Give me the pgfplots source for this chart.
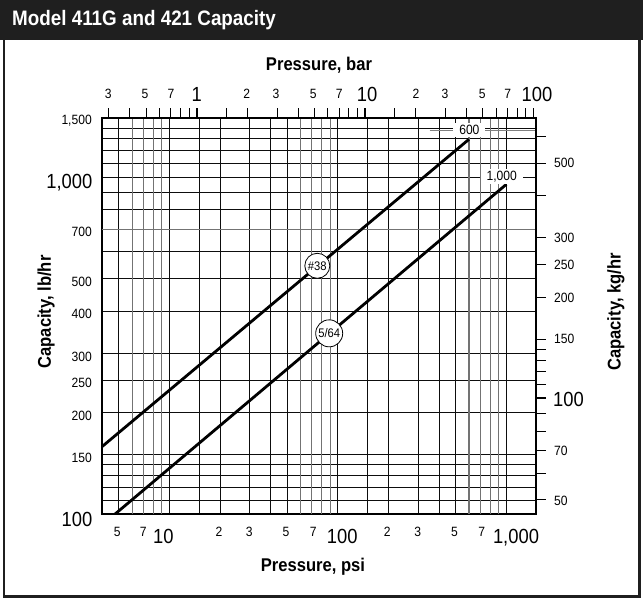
\documentclass[border=0pt]{standalone}
\usepackage{fontspec}
\setmainfont{Liberation Sans}[FakeStretch=0.9]
\usepackage{pgfplots}
\pgfplotsset{compat=1.18}

\begin{document}
\begin{tikzpicture}[x=1bp,y=-1bp,
  sm/.style={font=\fontsize{13.5}{15}\selectfont, inner sep=0pt, text depth=0pt},
  bg/.style={font=\fontsize{20.5}{24}\selectfont, inner sep=0pt, text depth=0pt},
  ttl/.style={font=\bfseries\fontsize{18.5}{21}\selectfont, inner sep=0pt}]
\useasboundingbox (0,0) rectangle (643,599);
\fill[white] (0,0) rectangle (643,599);
\fill[black!88] (0,0) rectangle (643,40);
\draw[black!88, line width=2.2bp] (4,39) -- (4,596.5) -- (639.5,596.5) -- (639.5,39);
\node[anchor=west, white, font=\bfseries\fontsize{21}{24}\selectfont, inner sep=0pt] at (12,20) {Model 411G and 421 Capacity};

% capacity in lb/hr against pressure in psi
\begin{axis}[at={(102bp,-514bp)}, anchor=south west,
  width=434bp, height=396bp, scale only axis,
  xmode=log, ymode=log,
  xmin=3.97, xmax=1500, ymin=100, ymax=1500,
  xtick={5,10,15,20,30,40,50,100,150,200,300,400,500,1000},
  extra x ticks={6,7,8,9,60,70,80,90,600,700,800,900},
  ytick={110,120,130,140,150,200,250,300,400,500,600,800,900,1000,1100,1200,1300,1400},
  extra y ticks={700},
  xticklabels={,,}, yticklabels={,,},
  extra x tick labels={,,}, extra y tick labels={,,},
  xminorticks=false, yminorticks=false,
  major tick length=0pt,
  grid=major,
  major grid style={black!95, line width=1bp},
  extra tick style={major grid style={black!55, line width=1.05bp}},
  axis line style={black, line width=1.8bp},
]
\addplot[black, line width=2.8bp] coordinates {(3.97,158.5) (600,1297)};
\addplot[black, line width=2.8bp] coordinates {(4.75,100) (1000,953)};
\node[circle, draw, fill=white, minimum size=25bp, inner sep=0pt, line width=0.8bp,
  font=\fontsize{12.5}{13}\selectfont] at (axis cs:75.4,546) {\#38};
\node[circle, draw, fill=white, minimum size=27bp, inner sep=0pt, line width=0.8bp,
  font=\fontsize{12.5}{13}\selectfont] at (axis cs:88.7,344) {5/64};
\draw[black!50, line width=0.8bp] (axis cs:350,1375) -- (axis cs:1500,1375);
\node[fill=white, inner xsep=6bp, inner ysep=2bp, font=\fontsize{13.5}{15}\selectfont] at (axis cs:603,1380) {600};
\node[fill=white, inner xsep=6bp, inner ysep=2bp, font=\fontsize{13.5}{15}\selectfont] at (axis cs:939,1004) {1,000};
\end{axis}

% secondary scales: bar on top, kg/hr on the right
\begin{axis}[at={(102bp,-514bp)}, anchor=south west,
  width=434bp, height=396bp, scale only axis,
  xmode=log, ymode=log,
  xmin=0.27372, xmax=103.42, ymin=45.359, ymax=680.39,
  axis x line*=top, axis y line*=right,
  xtick={0.3,0.4,0.5,0.6,0.7,0.8,0.9,1.5,2,3,4,5,6,7,8,9,15,20,30,40,50,60,70,80,90},
  extra x ticks={1,10,100},
  ytick={50,60,70,80,90,110,120,130,140,150,200,250,300,400,500,600},
  extra y ticks={100},
  xticklabels={,,}, yticklabels={,,},
  extra x tick labels={,,}, extra y tick labels={,,},
  xminorticks=false, yminorticks=false,
  tick align=outside, major tick length=10bp,
  major tick style={black, line width=1bp},
  extra tick style={major tick style={black, line width=1.8bp}},
  axis line style={black, line width=1.8bp},
]
\end{axis}

% top scale numbers (bar)
\foreach \x/\t in {108.3/3,145/5,171/7,246.7/2,276/3,313.3/5,339.3/7,416/2,445/3,482.3/5,507.7/7}
  \node[sm] at (\x,94) {\t};
\foreach \x/\t in {196.7/1,367/10,537/100}
  \node[bg] at (\x,94) {\t};
% bottom scale numbers (psi)
\foreach \x/\t in {117.3/5,143.3/7,219/2,249.3/3,286/5,313.3/7,387.3/2,417.7/3,454.5/5,481.7/7}
  \node[sm] at (\x,531.7) {\t};
\foreach \x/\t in {163.3/10,342.3/100,516/{1,000}}
  \node[bg] at (\x,536.5) {\t};
% left scale numbers (lb/hr)
\foreach \y/\t in {120/{1,500},232.3/700,281.7/500,314.3/400,356.7/300,383.3/250,416/200,457.7/150}
  \node[sm, anchor=east] at (92,\y) {\t};
\foreach \y/\t in {181/{1,000},519.3/100}
  \node[bg, anchor=east] at (92.5,\y) {\t};
% right scale numbers (kg/hr)
\foreach \y/\t in {163.3/500,238.3/300,265/250,297.7/200,339.3/150,451/70,500.5/50}
  \node[sm, anchor=west] at (554,\y) {\t};
\node[bg, anchor=west] at (553,399) {100};

\node[ttl] at (319,65) {Pressure, bar};
\node[ttl] at (313,567) {Pressure, psi};
\node[ttl, rotate=90] at (46,312) {Capacity, lb/hr};
\node[ttl, rotate=90] at (616,312) {Capacity, kg/hr};
\end{tikzpicture}
\end{document}
